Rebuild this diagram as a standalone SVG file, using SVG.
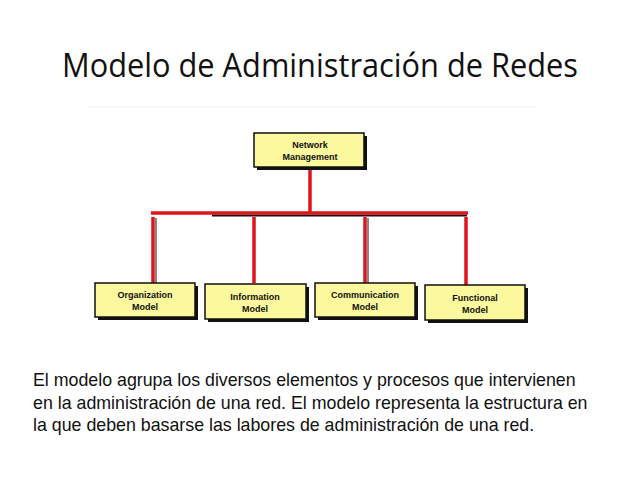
<svg xmlns="http://www.w3.org/2000/svg" width="638" height="479" viewBox="0 0 638 479">
<style>
.box{fill:#fbf89e;stroke:#111;stroke-width:1.5}
.sh{fill:#111}
.bt{font-family:"Liberation Sans",Arial,sans-serif;font-weight:bold;font-size:9px;fill:#111;text-anchor:middle}
.red{stroke:#e0141c;stroke-width:3.5;fill:none}
.body{font-family:"Liberation Sans",Arial,sans-serif;font-size:17.8px;fill:#111}
</style>
<rect width="638" height="479" fill="#fff"/>
<text x="62" y="77" font-family="'Open Sans','Noto Sans',sans-serif" font-size="32" fill="#111" textLength="516" lengthAdjust="spacingAndGlyphs">Modelo de Administración de Redes</text>
<line x1="88" y1="107" x2="535" y2="107" stroke="#f7f7f7" stroke-width="2"/>
<g id="connectors">
<line x1="212" y1="215.5" x2="467" y2="215.5" stroke="#111" stroke-width="2"/>
<line class="red" x1="310" y1="168" x2="310" y2="213"/>
<line class="red" x1="151" y1="213" x2="468" y2="213"/>
<line class="red" x1="153" y1="217" x2="153" y2="283"/>
<line class="red" x1="254" y1="217" x2="254" y2="283"/>
<line class="red" x1="365" y1="217" x2="365" y2="283"/>
<line class="red" x1="466" y1="217" x2="466" y2="285"/>
<line x1="156" y1="218" x2="156" y2="283" stroke="#111" stroke-width="1"/>
<line x1="368" y1="218" x2="368" y2="283" stroke="#111" stroke-width="1"/>
</g>
<g id="network-management">
<rect class="sh" x="257" y="136" width="110" height="34"/>
<rect class="box" x="254" y="133" width="110" height="34"/>
<text class="bt" x="310" y="148">Network</text>
<text class="bt" x="310" y="160">Management</text>
</g>
<g id="organization-model">
<rect class="sh" x="98" y="286" width="100" height="34"/>
<rect class="box" x="95" y="283" width="100" height="34"/>
<text class="bt" x="145" y="298">Organization</text>
<text class="bt" x="145" y="310">Model</text>
</g>
<g id="information-model">
<rect class="sh" x="208" y="287" width="101" height="35"/>
<rect class="box" x="205" y="284" width="101" height="35"/>
<text class="bt" x="255" y="300">Information</text>
<text class="bt" x="255" y="312">Model</text>
</g>
<g id="communication-model">
<rect class="sh" x="318" y="286" width="100" height="34"/>
<rect class="box" x="315" y="283" width="100" height="34"/>
<text class="bt" x="365" y="298">Communication</text>
<text class="bt" x="365" y="310">Model</text>
</g>
<g id="functional-model">
<rect class="sh" x="428" y="288" width="100" height="35"/>
<rect class="box" x="425" y="285" width="100" height="35"/>
<text class="bt" x="475" y="301">Functional</text>
<text class="bt" x="475" y="313">Model</text>
</g>
<text class="body" x="33" y="386">El modelo agrupa los diversos elementos y procesos que intervienen</text>
<text class="body" x="33" y="409">en la administración de una red. El modelo representa la estructura en</text>
<text class="body" x="33" y="431">la que deben basarse las labores de administración de una red.</text>
</svg>
